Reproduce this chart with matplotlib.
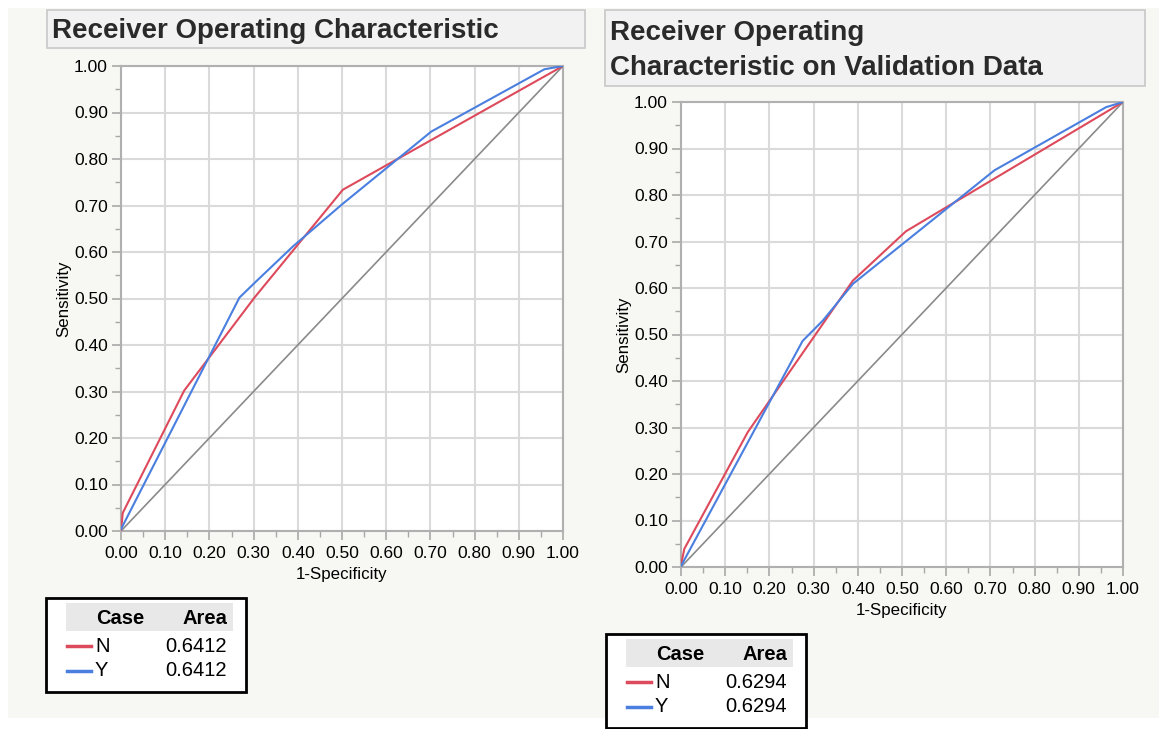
import matplotlib.pyplot as plt
from matplotlib.patches import Rectangle
from matplotlib.ticker import MultipleLocator

plt.rcParams['font.family'] = ['Liberation Sans', 'DejaVu Sans']

# ROC points (1-Specificity, Sensitivity)
train_n_x = [0.0, 0.004, 0.143, 0.302, 0.502, 1.0]
train_n_y = [0.0, 0.039, 0.302, 0.502, 0.734, 1.0]
train_y_x = [0.0, 0.268, 0.306, 0.389, 0.502, 0.702, 0.958, 1.0]
train_y_y = [0.004, 0.502, 0.537, 0.612, 0.704, 0.859, 0.993, 1.0]

valid_n_x = [0.0, 0.0075, 0.151, 0.389, 0.509, 1.0]
valid_n_y = [0.004, 0.039, 0.290, 0.616, 0.722, 1.0]
valid_y_x = [0.0, 0.275, 0.321, 0.389, 0.709, 0.962, 1.0]
valid_y_y = [0.002, 0.486, 0.530, 0.609, 0.853, 0.989, 1.0]

cases = ['N', 'Y']
train_area = ['0.6412', '0.6412']
valid_area = ['0.6294', '0.6294']
titles = ['Receiver Operating Characteristic',
          'Receiver Operating\nCharacteristic on Validation Data']

RED = '#dd4a5c'
BLUE = '#4a7fe0'
W, H = 1159, 729

fig = plt.figure(figsize=(W / 100, H / 100), dpi=100)
fig.patch.set_facecolor('white')

# overlay in pixel coords for the panels and legend tables
bg = fig.add_axes([0, 0, 1, 1], zorder=0)
bg.set_xlim(0, W)
bg.set_ylim(H, 0)
bg.axis('off')
bg.add_patch(Rectangle((8, 8), W - 8, 710, facecolor='#f7f7f3', edgecolor='none'))


def px_axes(x0, y0, x1, y1):
    return fig.add_axes([x0 / W, 1 - y1 / H, (x1 - x0) / W, (y1 - y0) / H], zorder=2)


def draw_roc(ax, nx, ny, yx, yy):
    ax.set_facecolor('white')
    ax.plot([0, 1], [0, 1], color='#8a8a8a', lw=1.2, zorder=3)
    ax.plot(nx, ny, color=RED, lw=1.5, zorder=4)
    ax.plot(yx, yy, color=BLUE, lw=1.5, zorder=5)
    ax.set_xlim(0, 1)
    ax.set_ylim(0, 1)
    ticks = [i / 10 for i in range(11)]
    ax.set_xticks(ticks)
    ax.set_yticks(ticks)
    ax.set_xticklabels(['%.2f' % t for t in ticks])
    ax.set_yticklabels(['%.2f' % t for t in ticks])
    ax.xaxis.set_minor_locator(MultipleLocator(0.05))
    ax.yaxis.set_minor_locator(MultipleLocator(0.05))
    ax.grid(True, which='major', color='#dadada', lw=1.5, zorder=1)
    ax.tick_params(which='major', length=6.5, width=1.2, color='#a8a8a8',
                   labelsize=12.5, pad=3)
    ax.tick_params(axis='x', which='major', pad=4.5)
    ax.tick_params(which='minor', length=4, width=1.0, color='#a8a8a8')
    for s in ax.spines.values():
        s.set_color('#b0b0b0')
        s.set_linewidth(1.5)
    ax.set_xlabel('1-Specificity', fontsize=12.2, labelpad=4)
    ax.set_ylabel('Sensitivity', fontsize=12.2, labelpad=2)


def title_box(x0, y0, x1, y1, text):
    bg.add_patch(Rectangle((x0, y0), x1 - x0, y1 - y0, facecolor='#f2f2f2',
                           edgecolor='#c8c8c8', lw=1.2))
    bg.text(x0 + 5, (y0 + y1) / 2 + 2, text, fontsize=20, fontweight='bold',
            color='#2a2a2a', va='center', ha='left', linespacing=1.45)


def legend_table(x0, y0, h, areas):
    bg.add_patch(Rectangle((x0, y0), 200, h, facecolor='white',
                           edgecolor='black', lw=2))
    bg.add_patch(Rectangle((x0 + 20, y0 + 5), 167, 28, facecolor='#e8e8e8',
                           edgecolor='none'))
    bg.text(x0 + 50, y0 + 20, 'Case', fontsize=14.5, fontweight='bold', va='center')
    bg.text(x0 + 181, y0 + 20, 'Area', fontsize=14.5, fontweight='bold',
            va='center', ha='right')
    for i, (c, a, col) in enumerate(zip(cases, areas, [RED, BLUE])):
        yy = y0 + 48 + i * 25
        bg.plot([x0 + 21, x0 + 45], [yy, yy], color=col, lw=2.5)
        bg.text(x0 + 49, yy, c, fontsize=14.5, va='center')
        bg.text(x0 + 181, yy, a, fontsize=14.5, va='center', ha='right')


title_box(47, 10, 585, 48, titles[0])
title_box(605, 10, 1145, 86, titles[1])

ax1 = px_axes(121, 66, 563, 531)
draw_roc(ax1, train_n_x, train_n_y, train_y_x, train_y_y)
ax2 = px_axes(681, 102, 1123, 567)
draw_roc(ax2, valid_n_x, valid_n_y, valid_y_x, valid_y_y)

legend_table(46, 598, 94, train_area)
legend_table(606, 634, 94, valid_area)

fig.savefig('out.png', dpi=100)
